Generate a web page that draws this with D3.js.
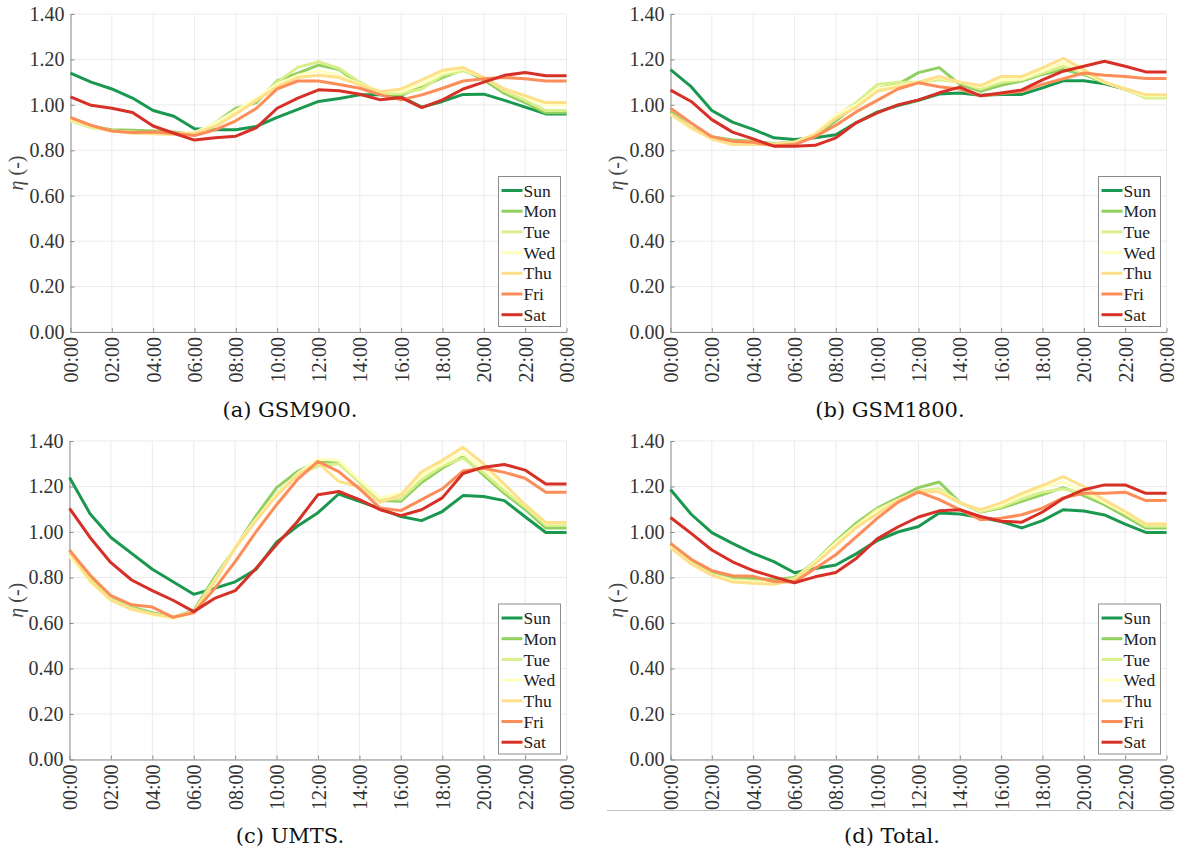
<!DOCTYPE html>
<html>
<head>
<meta charset="utf-8">
<script src="https://cdn.jsdelivr.net/npm/d3@7"></script>
<style>
  body { margin: 0; background: #fff; }
  svg { display: block; }
  .serif { font-family: "Liberation Serif", Tinos, "Nimbus Roman", Times, "DejaVu Serif", serif; }
  .cap { font-family: "DejaVu Serif", serif; }
</style>
</head>
<body>
<svg id="fig" width="1182" height="859"></svg>
<script>
// Weekday series and their colours
const days = ["Sun", "Mon", "Tue", "Wed", "Thu", "Fri", "Sat"];
const dayColors = ["#1a9850", "#91cf60", "#d9ef8b", "#ffffbf", "#fee08b", "#fc8d59", "#d73027"];

// Hour of day, 0..24
const hours = d3.range(25);
const hourTicks = [0, 2, 4, 6, 8, 10, 12, 14, 16, 18, 20, 22, 24];
const hourTickLabels = ["00:00", "02:00", "04:00", "06:00", "08:00", "10:00", "12:00",
                        "14:00", "16:00", "18:00", "20:00", "22:00", "00:00"];
const etaTicks = [0, 0.2, 0.4, 0.6, 0.8, 1.0, 1.2, 1.4];

// Normalised traffic η per hour, one row per weekday (Sun..Sat)
const gsm900 = [
  [1.14,1.10,1.07,1.03,0.975,0.95,0.895,0.89,0.89,0.905,0.945,0.98,1.015,1.028,1.044,1.045,1.035,0.99,1.015,1.046,1.047,1.02,0.99,0.96,0.96],
  [0.94,0.905,0.89,0.888,0.885,0.88,0.87,0.92,0.985,1.01,1.105,1.14,1.175,1.155,1.09,1.05,1.042,1.08,1.12,1.155,1.11,1.05,1.01,0.965,0.965],
  [0.93,0.90,0.885,0.88,0.875,0.875,0.875,0.915,0.97,1.02,1.10,1.165,1.19,1.16,1.10,1.05,1.05,1.07,1.13,1.15,1.12,1.06,1.02,0.975,0.975],
  [0.935,0.905,0.885,0.878,0.873,0.873,0.878,0.92,0.975,1.03,1.09,1.13,1.15,1.13,1.09,1.06,1.06,1.09,1.14,1.16,1.12,1.07,1.035,1.00,1.00],
  [0.94,0.905,0.885,0.875,0.873,0.87,0.875,0.905,0.96,1.02,1.08,1.12,1.13,1.12,1.088,1.058,1.07,1.11,1.152,1.164,1.12,1.07,1.04,1.01,1.01],
  [0.945,0.91,0.885,0.878,0.88,0.875,0.865,0.89,0.93,0.985,1.07,1.105,1.105,1.09,1.073,1.044,1.022,1.044,1.073,1.105,1.115,1.12,1.115,1.105,1.105],
  [1.035,0.998,0.985,0.966,0.907,0.875,0.845,0.855,0.862,0.90,0.985,1.03,1.066,1.062,1.047,1.022,1.032,0.988,1.022,1.07,1.10,1.13,1.142,1.128,1.128]
];

const gsm1800 = [
  [1.155,1.08,0.975,0.924,0.892,0.855,0.848,0.855,0.868,0.922,0.968,0.997,1.02,1.048,1.052,1.042,1.046,1.046,1.075,1.106,1.106,1.093,1.07,1.04,1.04],
  [0.97,0.90,0.86,0.845,0.84,0.83,0.835,0.86,0.93,1.00,1.07,1.09,1.142,1.164,1.09,1.06,1.086,1.105,1.134,1.156,1.134,1.097,1.068,1.034,1.034],
  [0.96,0.895,0.855,0.84,0.835,0.828,0.835,0.87,0.95,1.01,1.09,1.10,1.10,1.11,1.10,1.07,1.10,1.11,1.14,1.17,1.14,1.10,1.07,1.03,1.03],
  [0.96,0.895,0.85,0.83,0.83,0.826,0.835,0.875,0.955,1.0,1.07,1.085,1.10,1.12,1.10,1.08,1.11,1.115,1.15,1.185,1.145,1.10,1.07,1.04,1.04],
  [0.96,0.90,0.85,0.825,0.825,0.825,0.835,0.87,0.94,0.99,1.06,1.08,1.10,1.125,1.10,1.085,1.125,1.125,1.163,1.205,1.155,1.10,1.07,1.045,1.045],
  [0.985,0.92,0.86,0.84,0.835,0.82,0.825,0.86,0.91,0.97,1.02,1.07,1.097,1.08,1.07,1.04,1.05,1.06,1.09,1.115,1.14,1.13,1.125,1.116,1.116],
  [1.065,1.015,0.935,0.88,0.85,0.818,0.818,0.822,0.855,0.922,0.965,1.0,1.022,1.053,1.078,1.04,1.052,1.066,1.11,1.148,1.17,1.192,1.17,1.145,1.145]
];

const umts = [
  [1.24,1.079,0.976,0.906,0.836,0.781,0.726,0.752,0.781,0.835,0.955,1.025,1.085,1.167,1.135,1.103,1.068,1.05,1.09,1.16,1.156,1.138,1.067,0.998,0.998],
  [0.92,0.80,0.71,0.67,0.645,0.625,0.655,0.80,0.93,1.07,1.195,1.265,1.31,1.305,1.22,1.138,1.135,1.218,1.28,1.33,1.25,1.17,1.10,1.018,1.018],
  [0.905,0.79,0.705,0.665,0.64,0.625,0.65,0.79,0.93,1.05,1.17,1.25,1.29,1.30,1.22,1.145,1.145,1.23,1.29,1.325,1.26,1.18,1.11,1.03,1.03],
  [0.895,0.78,0.70,0.66,0.635,0.62,0.645,0.78,0.935,1.055,1.165,1.255,1.32,1.315,1.23,1.15,1.17,1.25,1.30,1.345,1.28,1.20,1.12,1.04,1.04],
  [0.91,0.785,0.70,0.66,0.64,0.625,0.65,0.78,0.93,1.05,1.16,1.25,1.305,1.222,1.20,1.13,1.163,1.265,1.315,1.372,1.30,1.21,1.12,1.042,1.042],
  [0.92,0.81,0.72,0.68,0.67,0.625,0.645,0.75,0.87,1.00,1.12,1.23,1.31,1.265,1.19,1.105,1.094,1.142,1.19,1.268,1.28,1.262,1.236,1.175,1.175],
  [1.104,0.975,0.865,0.789,0.742,0.70,0.65,0.708,0.742,0.84,0.945,1.045,1.164,1.178,1.142,1.098,1.072,1.098,1.15,1.257,1.285,1.297,1.272,1.211,1.211]
];

const total = [
  [1.187,1.078,0.997,0.95,0.906,0.87,0.821,0.84,0.855,0.905,0.962,1.0,1.024,1.083,1.079,1.064,1.046,1.018,1.05,1.098,1.092,1.075,1.035,0.998,0.998],
  [0.95,0.87,0.82,0.80,0.795,0.79,0.80,0.87,0.96,1.04,1.105,1.15,1.195,1.22,1.13,1.088,1.105,1.135,1.164,1.195,1.16,1.12,1.07,1.018,1.018],
  [0.94,0.865,0.815,0.79,0.785,0.78,0.795,0.87,0.955,1.03,1.10,1.14,1.18,1.19,1.13,1.09,1.11,1.145,1.175,1.19,1.17,1.13,1.08,1.025,1.025],
  [0.935,0.86,0.81,0.785,0.78,0.775,0.79,0.865,0.95,1.025,1.09,1.14,1.175,1.18,1.13,1.095,1.12,1.16,1.195,1.22,1.18,1.13,1.085,1.035,1.035],
  [0.93,0.86,0.81,0.78,0.775,0.77,0.79,0.86,0.94,1.02,1.08,1.14,1.178,1.176,1.128,1.098,1.128,1.17,1.205,1.243,1.20,1.14,1.09,1.035,1.035],
  [0.95,0.88,0.83,0.808,0.805,0.782,0.78,0.84,0.90,0.98,1.06,1.13,1.176,1.142,1.098,1.054,1.06,1.076,1.105,1.15,1.17,1.17,1.175,1.138,1.138],
  [1.064,0.994,0.921,0.869,0.83,0.803,0.777,0.803,0.822,0.885,0.97,1.022,1.066,1.093,1.098,1.068,1.047,1.043,1.088,1.147,1.186,1.207,1.207,1.17,1.17]
];

const captions = ["(a) GSM900.", "(b) GSM1800.", "(c) UMTS.", "(d) Total."];

// Sub-figure frames
const layout = [
  { data: gsm900,  caption: captions[0], x0: 70.5,  x1: 566.5,  y0: 14,  y1: 332,   labelX: 16,  capX: 290, capY: 417 },
  { data: gsm1800, caption: captions[1], x0: 670.5, x1: 1166.5, y0: 14,  y1: 332,   labelX: 616, capX: 890, capY: 417 },
  { data: umts,    caption: captions[2], x0: 69.5,  x1: 566.5,  y0: 441, y1: 759.5, labelX: 16,  capX: 290, capY: 843 },
  { data: total,   caption: captions[3], x0: 670.5, x1: 1166.5, y0: 441, y1: 759.5, labelX: 616, capX: 892, capY: 843 }
];

const svg = d3.select("#fig");
svg.append("rect").attr("width", 1182).attr("height", 859).attr("fill", "#fff");

const gridColor = "#ebebeb";
const axisColor = "#8c8c8c";

layout.forEach(p => {
  const x = d3.scaleLinear().domain([0, 24]).range([p.x0, p.x1]);
  const y = d3.scaleLinear().domain([0, 1.4]).range([p.y1, p.y0]);
  const g = svg.append("g");

  // grid
  g.append("g").selectAll("line").data(etaTicks).join("line")
    .attr("x1", p.x0).attr("x2", p.x1)
    .attr("y1", d => y(d)).attr("y2", d => y(d))
    .attr("stroke", gridColor).attr("stroke-width", 1);
  g.append("g").selectAll("line").data(hourTicks).join("line")
    .attr("x1", d => x(d)).attr("x2", d => x(d))
    .attr("y1", p.y0).attr("y2", p.y1)
    .attr("stroke", gridColor).attr("stroke-width", 1);

  // axes
  const yAxis = d3.axisLeft(y).tickValues(etaTicks).tickFormat(d3.format(".2f"))
    .tickSizeInner(-4).tickSizeOuter(0).tickPadding(6);
  const ya = g.append("g").attr("transform", `translate(${p.x0},0)`).call(yAxis)
    .attr("font-family", null).attr("font-size", null).attr("class", "serif");
  ya.select(".domain").attr("stroke", axisColor);
  ya.selectAll(".tick line").attr("stroke", axisColor);
  ya.selectAll(".tick text").style("font-size", "20px").attr("fill", "#333");

  const xAxis = d3.axisBottom(x).tickValues(hourTicks)
    .tickFormat((d, i) => hourTickLabels[i]).tickSizeInner(-4).tickSizeOuter(0);
  const xa = g.append("g").attr("transform", `translate(0,${p.y1})`).call(xAxis)
    .attr("font-family", null).attr("font-size", null).attr("class", "serif");
  xa.select(".domain").attr("stroke", axisColor);
  xa.selectAll(".tick line").attr("stroke", axisColor);
  xa.selectAll(".tick text")
    .style("font-size", "20px").attr("fill", "#333")
    .attr("text-anchor", "end")
    .attr("transform", "rotate(-90)")
    .attr("x", -5).attr("y", 0).attr("dy", "0.35em");

  // y label
  const yl = g.append("text").attr("class", "serif")
    .attr("transform", `translate(${p.labelX},${y(0.7)}) rotate(-90)`)
    .attr("text-anchor", "middle").attr("dy", "0.35em")
    .style("font-size", "20px").attr("fill", "#444");
  yl.append("tspan").style("font-style", "italic").text("η");
  yl.append("tspan").text(" (-)");

  // series
  const line = d3.line().x((d, i) => x(hours[i])).y(d => y(d));
  g.append("g").selectAll("path").data(p.data).join("path")
    .attr("d", line)
    .attr("fill", "none")
    .attr("stroke", (d, i) => dayColors[i])
    .attr("stroke-width", 3)
    .attr("stroke-linejoin", "round");

  // legend
  const lw = 62, lh = 150;
  const lx = p.x1 - 6 - lw, ly = p.y1 - 5.5 - lh;
  const lg = g.append("g").attr("transform", `translate(${lx},${ly})`);
  lg.append("rect").attr("width", lw).attr("height", lh)
    .attr("fill", "#fff").attr("stroke", "#8c8c8c").attr("stroke-width", 1);
  const items = lg.selectAll("g").data(days).join("g")
    .attr("transform", (d, i) => `translate(0,${14 + i * 20.7})`);
  items.append("line").attr("x1", 3).attr("x2", 24)
    .attr("stroke", (d, i) => dayColors[i]).attr("stroke-width", 3);
  items.append("text").attr("class", "serif").attr("x", 25).attr("dy", "0.35em")
    .style("font-size", "17.5px").attr("fill", "#222")
    .text(d => d);

  // caption
  svg.append("text").attr("class", "cap").attr("x", p.capX).attr("y", p.capY)
    .attr("text-anchor", "middle")
    .style("font-size", "21px").attr("fill", "#111")
    .text(p.caption);
});

// thin rule beneath the last sub-figure
svg.append("line").attr("x1", 607).attr("x2", 1173).attr("y1", 810.5).attr("y2", 810.5)
  .attr("stroke", "#c4c4c4").attr("stroke-width", 1);
</script>
</body>
</html>
